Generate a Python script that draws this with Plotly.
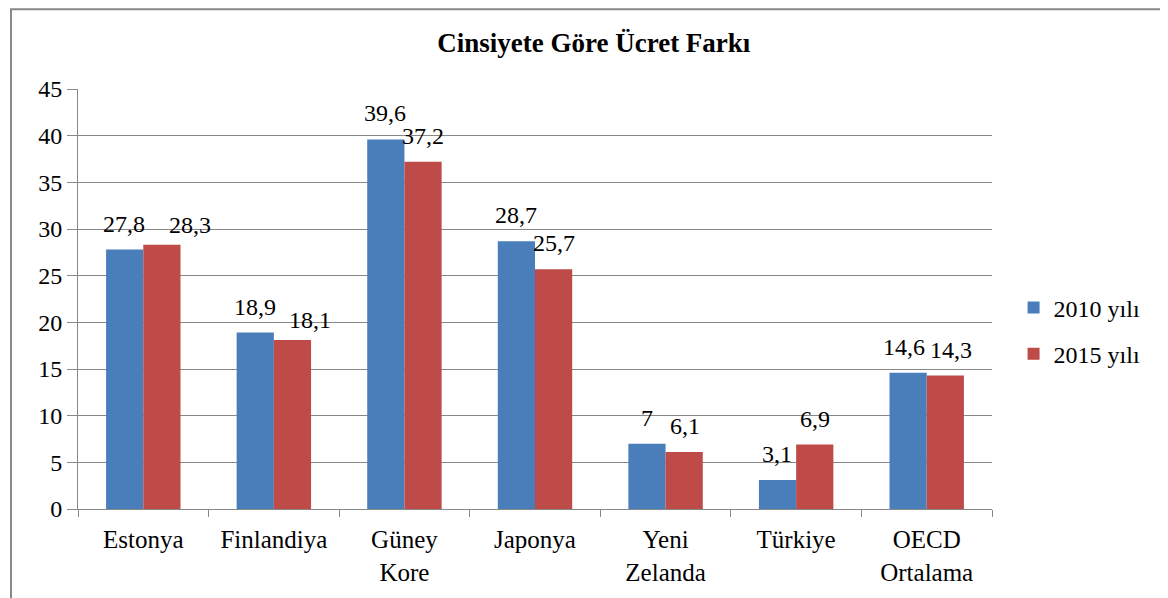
import plotly.graph_objects as go

countries = ["Estonya", "Finlandiya", "Güney<br>Kore", "Japonya", "Yeni<br>Zelanda", "Türkiye", "OECD<br>Ortalama"]
gap_2010 = [27.8, 18.9, 39.6, 28.7, 7, 3.1, 14.6]
gap_2015 = [28.3, 18.1, 37.2, 25.7, 6.1, 6.9, 14.3]
y_ticks = [0, 5, 10, 15, 20, 25, 30, 35, 40, 45]

FONT = "Liberation Serif, Times New Roman, serif"
BLUE = "#4a7ebb"
RED = "#be4b48"

# a few labels were nudged aside in the original to avoid overlaps (px)
label_nudge = {
    ("2015", 0): (28, -6),
    ("2015", 1): (17, -6),
    ("2010", 6): (-4, 0),
    ("2015", 6): (5, 0),
}


def fmt(v):
    return f"{v:g}".replace(".", ",")


fig = go.Figure()
fig.add_bar(x=countries, y=gap_2010, name="2010 yılı", marker_color=BLUE,
            legendgroup="a")
fig.add_bar(x=countries, y=gap_2015, name="2015 yılı", marker_color=RED,
            legendgroup="b")
fig.update_traces(marker_line_width=0)

# value labels above each bar
for key, vals, shift in (("2010", gap_2010, -19), ("2015", gap_2015, 19)):
    for i, (c, v) in enumerate(zip(countries, vals)):
        dx, dy = label_nudge.get((key, i), (0, 0))
        fig.add_annotation(x=c, y=v, text=fmt(v), showarrow=False,
                           xshift=shift + dx, yshift=11 + dy, yanchor="bottom",
                           font=dict(family=FONT, size=24, color="#000"))

fig.update_layout(
    width=1160, height=590,
    barmode="group", bargap=0.43, bargroupgap=0,
    plot_bgcolor="white", paper_bgcolor="white",
    font=dict(family=FONT, size=24, color="#000"),
    margin=dict(l=70, r=176, t=81, b=87),
    title=dict(text="<b>Cinsiyete Göre Ücret Farkı</b>", x=0.505, xanchor="center",
               y=0.942, yanchor="middle", font=dict(size=27, family=FONT, color="#000")),
    legend=dict(x=1.0236, y=0.424, yanchor="middle",
                font=dict(size=24, family=FONT), traceorder="grouped",
                tracegroupgap=12, bgcolor="rgba(0,0,0,0)"),
)
fig.update_xaxes(
    showline=True, linecolor="#888", linewidth=1,
    ticks="outside", tickson="boundaries", ticklen=7, tickcolor="#888",
    tickfont=dict(size=25), showgrid=False, ticklabelstandoff=8,
)
fig.update_yaxes(
    range=[0, 45], tickvals=y_ticks, showgrid=True, gridcolor="#888", gridwidth=1,
    showline=True, linecolor="#888", linewidth=1, ticks="outside", ticklen=10,
    tickcolor="#888", tickfont=dict(size=24), zeroline=False,
)
# outer chart border
fig.add_shape(type="rect", xref="paper", yref="paper",
              x0=-0.0733, x1=1.5, y0=-0.5, y1=1.1896,
              line=dict(color="#888", width=2), layer="below")

fig.write_html("out.html")
